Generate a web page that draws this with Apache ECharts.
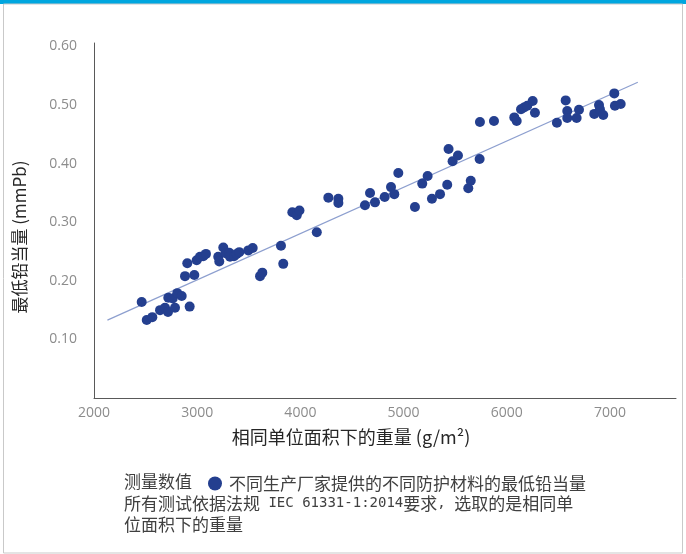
<!DOCTYPE html>
<html>
<head>
<meta charset="utf-8">
<script src="https://cdn.jsdelivr.net/npm/echarts@6/dist/echarts.min.js"></script>
<style>
  html, body { margin: 0; padding: 0; background: #ffffff; }
  #chart { width: 686px; height: 554px; }
</style>
</head>
<body>
<div id="chart"></div>
<script>
// Areal weight (g/m²) of each protective material sample
const weights = [
  2462, 2511, 2565, 2640, 2688, 2717, 2720, 2763, 2785, 2807,
  2850, 2927, 2882, 2972, 2904, 2995, 3027, 3059, 3085, 3204,
  3214, 3253, 3276, 3311, 3318, 3357, 3383, 3408, 3495, 3538,
  3609, 3631, 3812, 3834, 3922, 3965, 3991, 4159, 4271, 4368,
  4368, 4626, 4675, 4723, 4817, 4878, 4910, 4949, 5110, 5181,
  5233, 5275, 5353, 5423, 5627, 5651, 5436, 5475, 5527, 5737,
  5740, 5876, 6073, 6096, 6138, 6167, 6199, 6251, 6273, 6486,
  6571, 6586, 6586, 6677, 6700, 6848, 6894, 6903, 6935, 7042,
  7048, 7104
];
// Minimum lead equivalent (mmPb) measured for each sample
const leadEq = [
  0.164, 0.133, 0.138, 0.150, 0.154, 0.147, 0.171, 0.170, 0.154, 0.179,
  0.174, 0.156, 0.208, 0.210, 0.230, 0.235, 0.241, 0.242, 0.246, 0.241,
  0.233, 0.257, 0.247, 0.248, 0.241, 0.242, 0.246, 0.249, 0.252, 0.256,
  0.208, 0.214, 0.260, 0.229, 0.317, 0.312, 0.320, 0.283, 0.342, 0.340,
  0.333, 0.329, 0.350, 0.334, 0.343, 0.360, 0.348, 0.384, 0.326, 0.366,
  0.379, 0.340, 0.348, 0.364, 0.358, 0.371, 0.425, 0.404, 0.414, 0.408,
  0.471, 0.473, 0.479, 0.473, 0.493, 0.496, 0.499, 0.507, 0.487, 0.470,
  0.508, 0.490, 0.478, 0.478, 0.492, 0.485, 0.500, 0.493, 0.483, 0.520,
  0.499, 0.502
];
// Endpoints of the linear trend line
const trendX = [2130, 7270];
const trendY = [0.133, 0.539];

const xTicks = [2000, 3000, 4000, 5000, 6000, 7000];
const yTicks = [0.1, 0.2, 0.3, 0.4, 0.5, 0.6];

const xTitle = '相同单位面积下的重量 (g/m²)';
const yTitle = '最低铅当量 (mmPb)';
const legendLead = '测量数值';
const seriesName = '不同生产厂家提供的不同防护材料的最低铅当量';
// Footnote: the standard reference is set in a monospaced face
const noteRich = [
  '所有测试依据法规{m| IEC 61331-1:2014}要求{m|, }选取的是相同单',
  '位面积下的重量'
];

const cjk = '"Noto Sans CJK SC", "Noto Sans", sans-serif';
const latin = '"Open Sans", "Noto Sans", sans-serif';
const mono = '"DejaVu Sans Mono", "Liberation Mono", monospace';
const textColor = '#404040';

const chart = echarts.init(document.getElementById('chart'), null, { renderer: 'canvas' });

chart.setOption({
  backgroundColor: '#ffffff',
  animation: false,
  grid: { left: 94, right: 10, top: 43, bottom: 156, containLabel: false },
  xAxis: {
    type: 'value',
    min: xTicks[0],
    max: 7640,
    interval: 1000,
    axisLine: { show: true, lineStyle: { color: '#595959', width: 1 } },
    axisTick: { show: false },
    splitLine: { show: false },
    axisLabel: {
      showMaxLabel: false,
      margin: 8,
      fontFamily: latin,
      fontSize: 14,
      color: '#8c8c8c',
      formatter: v => String(Math.round(v))
    }
  },
  yAxis: {
    type: 'value',
    min: 0,
    max: 0.606,
    interval: 0.1,
    axisLine: { show: true, lineStyle: { color: '#595959', width: 1 } },
    axisTick: { show: false },
    splitLine: { show: false },
    axisLabel: {
      showMinLabel: false,
      showMaxLabel: false,
      margin: 17,
      fontFamily: latin,
      fontSize: 14,
      color: '#8c8c8c',
      formatter: v => v.toFixed(2)
    }
  },
  legend: {
    data: [seriesName],
    left: 203,
    top: 470,
    itemWidth: 14,
    itemHeight: 14,
    itemGap: 0,
    icon: 'circle',
    textStyle: { fontFamily: cjk, fontSize: 17, color: textColor, padding: [0, 0, 0, 2] }
  },
  graphic: [
    { type: 'rect', shape: { x: 0, y: 0, width: 686, height: 4 }, style: { fill: '#00a6df' }, silent: true },
    { type: 'rect', shape: { x: 3.5, y: 4, width: 679, height: 549 }, style: { fill: 'none', stroke: '#c9c9c9', lineWidth: 1 }, silent: true },
    {
      type: 'text', x: 351, y: 437,
      style: { text: xTitle, font: '18px ' + cjk, fill: '#262626', align: 'center', verticalAlign: 'middle' }
    },
    {
      type: 'text', x: 20, y: 237, rotation: Math.PI / 2,
      style: { text: yTitle, font: '17px ' + cjk, fill: '#262626', align: 'center', verticalAlign: 'middle' }
    },
    {
      type: 'text', x: 124, y: 482,
      style: { text: legendLead, font: '17px ' + cjk, fill: textColor, verticalAlign: 'middle' }
    },
    {
      type: 'text', x: 124, y: 493,
      style: {
        text: noteRich.join('\n'),
        font: '17px ' + cjk,
        lineHeight: 21,
        fill: textColor,
        rich: {
          m: { fontFamily: mono, fontSize: 14, lineHeight: 21, fill: textColor }
        }
      }
    }
  ],
  series: [
    {
      name: seriesName,
      type: 'scatter',
      symbol: 'circle',
      symbolSize: 10,
      itemStyle: { color: '#243f8f', opacity: 1 },
      data: weights.map((w, i) => [w, leadEq[i]]),
      z: 3
    },
    {
      name: 'trend',
      type: 'line',
      data: trendX.map((x, i) => [x, trendY[i]]),
      symbol: 'none',
      lineStyle: { color: '#8d9fcf', width: 1.2 },
      z: 2
    }
  ]
});
</script>
</body>
</html>
